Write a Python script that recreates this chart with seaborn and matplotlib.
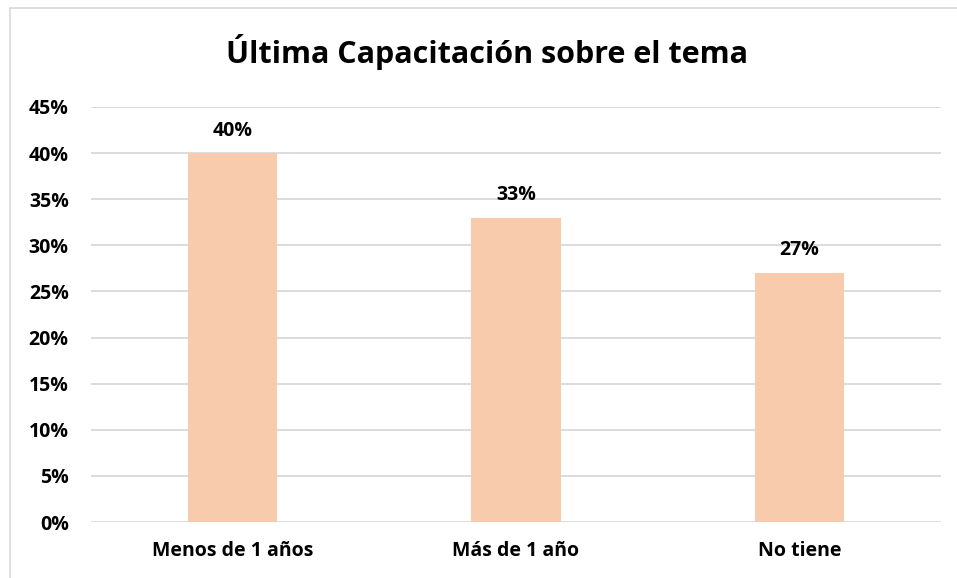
import matplotlib
matplotlib.use("Agg")
import matplotlib.pyplot as plt
import seaborn as sns
import pandas as pd
from matplotlib.lines import Line2D
from matplotlib.ticker import MultipleLocator, PercentFormatter

categories = ["Menos de 1 años", "Más de 1 año", "No tiene"]
values = [0.40, 0.33, 0.27]
value_labels = ["40%", "33%", "27%"]

df = pd.DataFrame({"categoria": categories, "valor": values})

sns.set_style("white")
plt.rcParams["font.family"] = ["Open Sans", "DejaVu Sans"]
plt.rcParams["text.color"] = "black"
plt.rcParams["xtick.color"] = "black"
plt.rcParams["ytick.color"] = "black"

fig = plt.figure(figsize=(9.57, 5.78), dpi=100)
ax = fig.add_axes([91 / 957, 1 - 522 / 578, (941 - 91) / 957, (522 - 107) / 578])

sns.barplot(data=df, x="categoria", y="valor", color="#F8CBAD", width=0.315,
            saturation=1, linewidth=0, ax=ax, zorder=2)

ax.set_ylim(0, 0.45)
ax.yaxis.set_major_locator(MultipleLocator(0.05))
ax.yaxis.set_major_formatter(PercentFormatter(1.0, decimals=0))
ax.grid(axis="y", color="#D9D9D9", linewidth=1.3, zorder=0)
ax.set_axisbelow(True)
for s in ax.spines.values():
    s.set_visible(False)
ax.tick_params(axis="both", length=0)
ax.tick_params(axis="y", pad=16, labelsize=14)
ax.tick_params(axis="x", pad=14, labelsize=14)
for lbl in ax.get_xticklabels() + ax.get_yticklabels():
    lbl.set_fontweight("bold")
ax.set_xlabel("")
ax.set_ylabel("")

for i, (v, t) in enumerate(zip(values, value_labels)):
    ax.annotate(t, (i, v), xytext=(0, 9), textcoords="offset points",
                ha="center", va="bottom", fontsize=14, fontweight="bold")

fig.text(487 / 957, 1 - 52 / 578, "Última Capacitación sobre el tema",
         ha="center", va="center", fontsize=22, fontweight="bold")

# chart border (top and left edges visible)
fig.add_artist(Line2D([10 / 957, 1], [1 - 8 / 578, 1 - 8 / 578], color="#D9D9D9", lw=1.2))
fig.add_artist(Line2D([10 / 957, 10 / 957], [0, 1 - 8 / 578], color="#D9D9D9", lw=1.2))

fig.savefig("out.png", dpi=100)
